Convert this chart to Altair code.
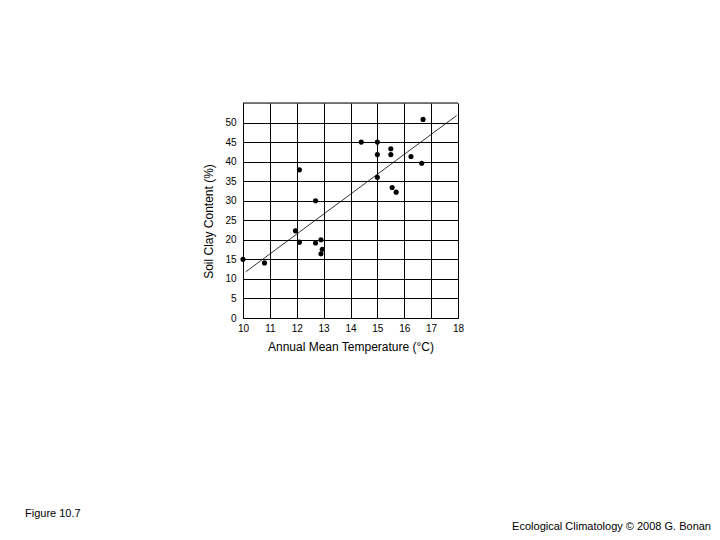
import altair as alt
import pandas as pd

# Data
temp = [16.7, 14.4, 15.0, 15.0, 15.5, 15.5, 16.25, 16.65, 15.0, 15.55, 15.7,
        12.1, 12.7, 10.0, 10.8, 11.95, 12.1, 12.7, 12.9, 12.95, 12.9]
clay = [50.8, 45.0, 45.0, 41.8, 43.3, 41.8, 41.3, 39.6, 36.0, 33.4, 32.2,
        37.9, 30.0, 15.0, 14.1, 22.3, 19.4, 19.2, 20.0, 17.6, 16.4]

# Fitted line end points as drawn
line_x = [10.1, 17.95]
line_y = [11.8, 51.8]

x_ticks = [10, 11, 12, 13, 14, 15, 16, 17, 18]
y_ticks = [0, 5, 10, 15, 20, 25, 30, 35, 40, 45, 50]

notes_left = ["Figure 10.7"]
notes_right = ["Ecological Climatology \u00a9 2008 G. Bonan"]

pts = pd.DataFrame({"t": temp, "c": clay})
ln = pd.DataFrame({"t": line_x, "c": line_y})

FONT = "Liberation Sans"
W, H = 215, 215

xscale = alt.Scale(domain=[10, 18], nice=False, zero=False)
yscale = alt.Scale(domain=[0, 55], nice=False, zero=False)

xaxis = alt.Axis(values=x_ticks, title="Annual Mean Temperature (\u00b0C)",
                 grid=True, gridColor="black", gridOpacity=1, gridWidth=1,
                 ticks=False, domain=True, domainColor="black", domainWidth=1,
                 labelPadding=5, labelOverlap=False, labelFlush=False,
                 labelFontSize=10, labelFont=FONT, labelColor="black",
                 titleFont=FONT, titleFontSize=12, titleFontWeight="normal",
                 titleColor="black", titlePadding=8)
yaxis = alt.Axis(values=y_ticks, title="Soil Clay Content (%)",
                 grid=True, gridColor="black", gridOpacity=1, gridWidth=1,
                 ticks=False, domain=True, domainColor="black", domainWidth=1,
                 labelPadding=7, labelOverlap=False, labelFlush=False,
                 labelFontSize=10, labelFont=FONT, labelColor="black",
                 titleFont=FONT, titleFontSize=12, titleFontWeight="normal",
                 titleColor="black", titleAngle=270, titleBaseline="middle",
                 titleAlign="center", titleX=-35, titleY=118)

line = alt.Chart(ln).mark_line(color="black", strokeWidth=0.8).encode(
    x=alt.X("t:Q", scale=xscale, axis=xaxis),
    y=alt.Y("c:Q", scale=yscale, axis=yaxis),
)

points = alt.Chart(pts).mark_circle(color="black", opacity=1, size=26).encode(
    x=alt.X("t:Q", scale=xscale, axis=xaxis),
    y=alt.Y("c:Q", scale=yscale, axis=yaxis),
)

# top frame edge of the plot box
frame_top = alt.Chart(pd.DataFrame({"k": [0]})).mark_rule(
    color="black", strokeWidth=1
).encode(x=alt.value(0), x2=alt.value(W), y=alt.value(0))

left_note = alt.Chart(pd.DataFrame({"txt": notes_left})).mark_text(
    font=FONT, fontSize=11, align="left", baseline="middle", color="black"
).encode(x=alt.value(-218), y=alt.value(411), text="txt:N")

right_note = alt.Chart(pd.DataFrame({"txt": notes_right})).mark_text(
    font=FONT, fontSize=11, align="right", baseline="middle", color="black"
).encode(x=alt.value(468), y=alt.value(424), text="txt:N")

chart = alt.layer(line, points, frame_top, left_note, right_note).properties(
    width=W, height=H,
    autosize=alt.AutoSizeParams(type="none"),
    padding={"left": 235, "top": 95, "right": 254, "bottom": 214},
).configure_view(stroke="black", strokeWidth=1, strokeOpacity=1).configure(background="white")

chart.save("out.html", embed_options={"renderer": "svg", "actions": False})
